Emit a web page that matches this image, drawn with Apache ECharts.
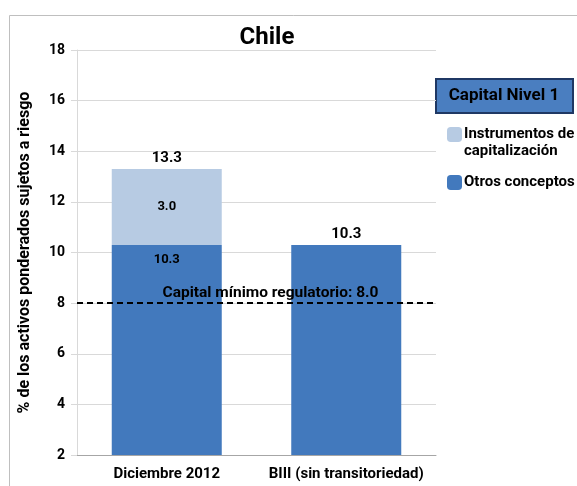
<!DOCTYPE html>
<html>
<head>
<meta charset="utf-8">
<script src="https://cdn.jsdelivr.net/npm/echarts@6/dist/echarts.min.js"></script>
<style>
  html, body { margin: 0; padding: 0; background: #fff; }
  #main { width: 577px; height: 486px; }
</style>
</head>
<body>
<div id="main"></div>
<script>
var categories = ['Diciembre 2012', 'BIII (sin transitoriedad)']
var otros = [10.3, 10.3]
var instrumentos = [3.0, '-']
var totales = [13.3, 10.3]
var minimo = 8.0
var yTicks = { min: 2, max: 18, interval: 2 }

var fuente = 'Roboto'
var chart = echarts.init(document.getElementById('main'))

var option = {
  animation: false,
  textStyle: { fontFamily: fuente },
  title: {
    text: 'Chile',
    left: 262,
    textAlign: 'center',
    top: 21,
    textStyle: { fontSize: 24, fontWeight: 'bold', color: '#000', fontFamily: fuente }
  },
  legend: {
    orient: 'vertical',
    left: 442,
    top: 104,
    itemWidth: 15,
    itemHeight: 15,
    itemGap: 14,
    data: ['Instrumentos de\ncapitalización', 'Otros conceptos'],
    // linea en blanco arriba para que el cuadro quede junto a la primera linea
    formatter: function (name) {
      return name.indexOf('\n') >= 0 ? ' \n' + name : name
    },
    textStyle: { fontSize: 15, fontWeight: 'bold', color: '#000', lineHeight: 17, fontFamily: fuente, padding: [0, 0, 0, -3] }
  },
  grid: { left: 77, right: 141, top: 50, bottom: 31 },
  xAxis: {
    type: 'category',
    data: categories,
    axisLine: { lineStyle: { color: '#a6a6a6' } },
    axisTick: { length: 5, lineStyle: { color: '#a6a6a6' } },
    axisLabel: { interval: 0, fontSize: 15, fontWeight: 'bold', color: '#000', margin: 12, fontFamily: fuente }
  },
  yAxis: {
    type: 'value',
    min: yTicks.min,
    max: yTicks.max,
    interval: yTicks.interval,
    name: '% de los activos ponderados sujetos a riesgo',
    nameLocation: 'middle',
    nameRotate: 90,
    nameGap: 44,
    nameTextStyle: { fontSize: 16, fontWeight: 'bold', color: '#000', fontFamily: fuente },
    axisLine: { show: true, lineStyle: { color: '#d9d9d9' } },
    axisTick: { show: true, length: 6, lineStyle: { color: '#d9d9d9' } },
    splitLine: { lineStyle: { color: '#d9d9d9' } },
    axisLabel: { fontSize: 14, fontWeight: 'bold', color: '#000', margin: 12, fontFamily: fuente }
  },
  series: [
    {
      name: 'Otros conceptos',
      type: 'bar',
      stack: 'capital',
      barWidth: 110,
      itemStyle: { color: '#4279bd' },
      data: [
        { value: otros[0], label: { show: true, position: 'insideTop', distance: 8, formatter: '{c}', fontSize: 13, fontWeight: 'bold', color: '#000', fontFamily: fuente } },
        otros[1]
      ],
      markLine: {
        silent: true,
        symbol: 'none',
        lineStyle: { color: '#000', type: [6, 4], width: 2 },
        label: {
          position: 'insideMiddleTop',
          formatter: 'Capital mínimo regulatorio: ' + minimo.toFixed(1),
          fontSize: 15.5,
          fontWeight: 'bold',
          fontFamily: fuente,
          color: '#000',
          distance: 2,
          offset: [14, 0]
        },
        data: [{ yAxis: minimo }]
      }
    },
    {
      name: 'Instrumentos de\ncapitalización',
      type: 'bar',
      stack: 'capital',
      barWidth: 110,
      itemStyle: { color: '#b7cbe3' },
      label: { show: true, position: 'inside', formatter: function (p) { return p.value.toFixed(1) }, fontSize: 13, fontWeight: 'bold', color: '#000', fontFamily: fuente },
      data: instrumentos
    },
    {
      name: 'total',
      type: 'scatter',
      symbolSize: 1,
      itemStyle: { color: 'transparent', opacity: 1 },
      label: { show: true, position: 'top', distance: 3, formatter: function (p) { return p.value.toFixed(1) }, fontSize: 15, fontWeight: 'bold', color: '#000', fontFamily: fuente },
      data: totales
    }
  ],
  graphic: [
    {
      type: 'rect',
      silent: true,
      shape: { x: 9.5, y: 15.5, width: 620, height: 520 },
      style: { fill: 'none', stroke: '#bfbfbf', lineWidth: 1 }
    },
    {
      type: 'group',
      left: 435,
      top: 78,
      children: [
        {
          type: 'rect',
          shape: { x: 0, y: 0, width: 137, height: 34 },
          style: { fill: '#4a7ec0', stroke: '#1f3864', lineWidth: 2 }
        },
        {
          type: 'text',
          x: 68,
          y: 17,
          style: { text: 'Capital Nivel 1', fill: '#000', font: 'bold 17px ' + fuente, textAlign: 'center', textVerticalAlign: 'middle' }
        }
      ]
    }
  ]
}
chart.setOption(option)
</script>
</body>
</html>
